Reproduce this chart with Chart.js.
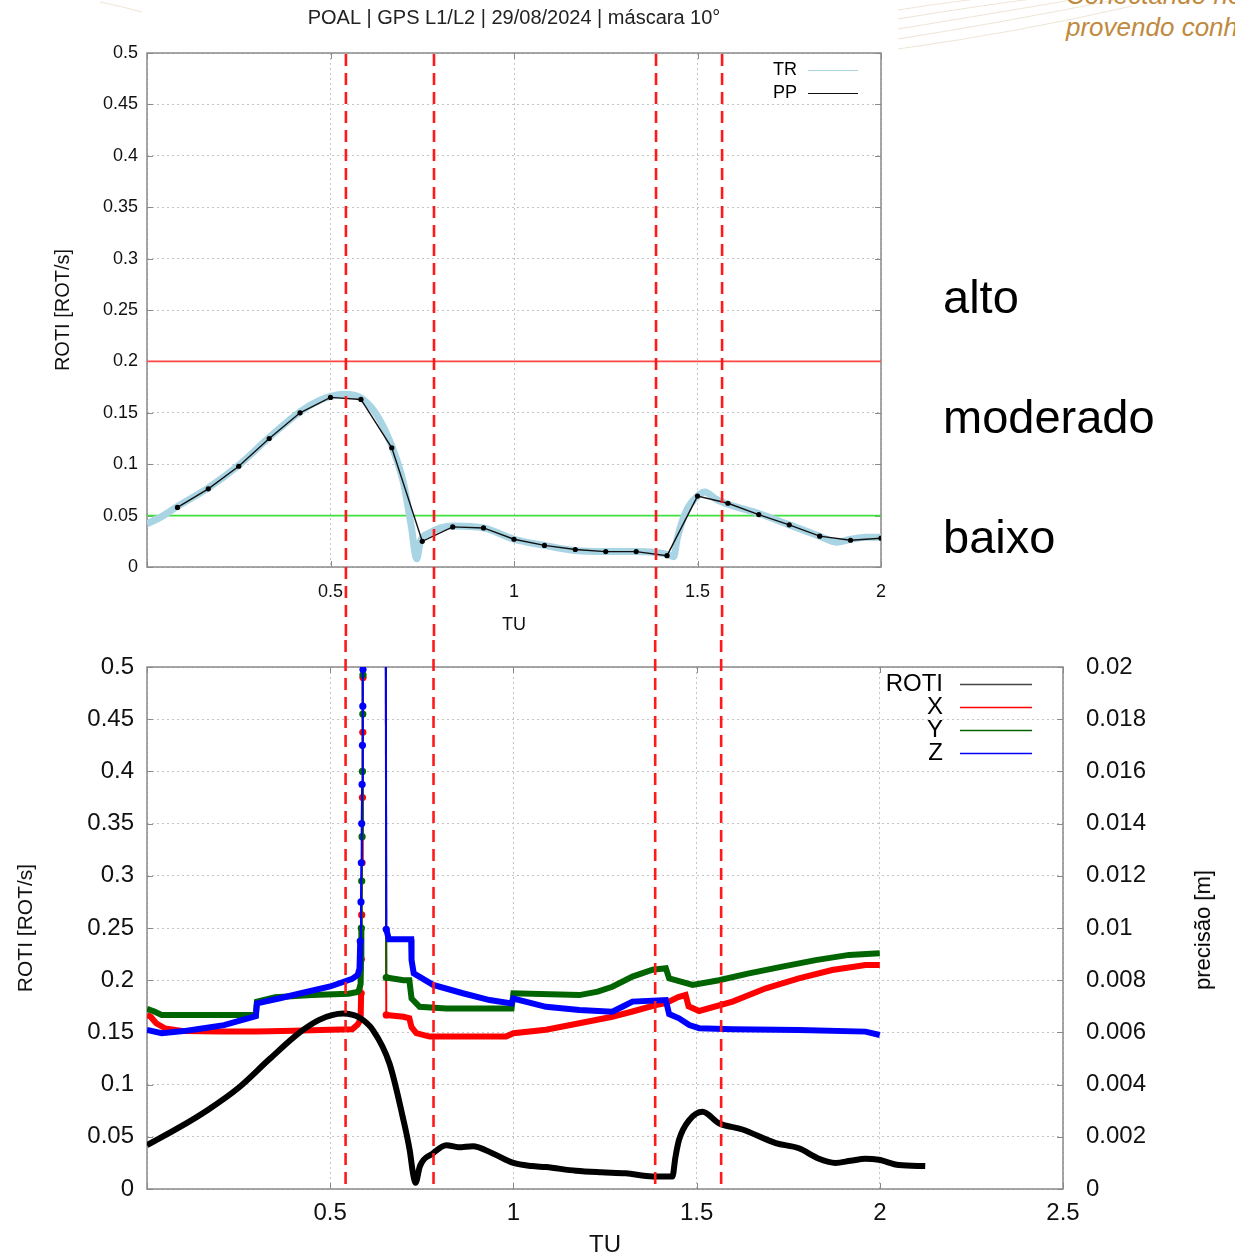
<!DOCTYPE html>
<html><head><meta charset="utf-8">
<script src="https://cdn.jsdelivr.net/npm/chart.js@4/dist/chart.umd.min.js"></script>
<style>
html,body{margin:0;padding:0;background:#fff;}
body{width:1235px;height:1255px;overflow:hidden;position:relative;font-family:"Liberation Sans",Arial,sans-serif;}
#c1{position:absolute;left:0;top:0;}
#c2{position:absolute;left:0;top:640px;}
.lvl{position:absolute;left:943px;font-size:47px;line-height:47px;color:#000;white-space:nowrap;}
.brand{position:absolute;left:1066px;font-size:26px;line-height:26px;font-style:italic;color:#c08a3e;white-space:nowrap;}
#y2title{position:absolute;left:1203px;top:930px;transform:translate(-50%,-50%) rotate(-90deg);font-size:22px;white-space:nowrap;color:#000;}
svg{position:absolute;left:0;top:0;}
</style></head><body>
<svg width="1235" height="60">
  <g fill="none" stroke="#efe5d6" stroke-width="1">
    <path d="M100 2 Q120 6 142 12"/>
    <path d="M898 10 Q960 0 1040 -8"/>
    <path d="M898 19 Q975 6 1070 -6"/>
    <path d="M898 29 Q990 14 1095 -4"/>
    <path d="M898 39 Q1005 22 1115 0"/>
    <path d="M898 49 Q1020 32 1132 6"/>
  </g>
</svg>
<canvas id="c1" width="1028" height="640"></canvas>
<canvas id="c2" width="1235" height="615"></canvas>
<div class="lvl" style="top:273px">alto</div>
<div class="lvl" style="top:393px">moderado</div>
<div class="lvl" style="top:513px">baixo</div>
<div class="brand" style="top:-18px">Conectando nosso</div>
<div class="brand" style="top:14px">provendo conhecimento</div>
<div id="y2title">precisão [m]</div>
<script>
// ---------------- data ----------------
const chartTitle = 'POAL | GPS L1/L2 | 29/08/2024 | máscara 10°';
const markerTimes = [0.542, 0.782, 1.387, 1.567];
const thresholdValues = [0.2, 0.05];

const ppTime  = [0.083,0.167,0.25,0.333,0.417,0.5,0.583,0.667,0.75,0.833,0.917,1.0,1.083,1.167,1.25,1.333,1.417,1.5,1.583,1.667,1.75,1.833,1.917,2.0];
const ppValue = [0.058,0.076,0.098,0.125,0.150,0.165,0.163,0.116,0.025,0.039,0.038,0.027,0.021,0.017,0.015,0.015,0.011,0.069,0.062,0.051,0.041,0.030,0.026,0.028];

const trTime  = [0.0,0.04,0.083,0.167,0.25,0.333,0.417,0.47,0.5,0.54,0.58,0.62,0.65,0.68,0.70,0.72,0.735,0.745,0.77,0.80,0.833,0.917,1.0,1.083,1.167,1.25,1.333,1.42,1.435,1.445,1.47,1.50,1.52,1.55,1.583,1.667,1.75,1.833,1.88,1.917,1.96,2.0];
const trValue = [0.042,0.049,0.059,0.077,0.099,0.126,0.151,0.162,0.166,0.168,0.165,0.151,0.132,0.105,0.080,0.040,0.008,0.025,0.033,0.038,0.040,0.038,0.027,0.021,0.016,0.015,0.015,0.012,0.010,0.028,0.055,0.069,0.073,0.066,0.061,0.052,0.041,0.030,0.024,0.027,0.029,0.029];

const rotiTime  = [0.0,0.083,0.167,0.25,0.333,0.417,0.47,0.535,0.58,0.617,0.662,0.698,0.717,0.726,0.733,0.745,0.78,0.817,0.85,0.889,0.944,1.0,1.05,1.089,1.171,1.24,1.307,1.38,1.434,1.442,1.452,1.48,1.516,1.561,1.625,1.716,1.779,1.834,1.879,1.92,1.961,1.997,2.052,2.124];
const rotiValue = [0.042,0.058,0.076,0.097,0.124,0.150,0.162,0.168,0.164,0.152,0.120,0.069,0.037,0.015,0.006,0.022,0.034,0.042,0.040,0.041,0.034,0.025,0.022,0.021,0.0175,0.016,0.015,0.012,0.012,0.030,0.047,0.066,0.074,0.063,0.057,0.044,0.039,0.029,0.025,0.027,0.029,0.028,0.023,0.022];

const precXTime  = [0.0,0.010,0.025,0.050,0.100,0.200,0.300,0.400,0.500,0.560,0.575,0.583,0.5845,0.585,0.586,0.587,0.588,0.589,0.5895,0.592,0.651,0.653,0.700,0.716,0.722,0.735,0.771,0.850,0.980,1.000,1.089,1.180,1.270,1.325,1.389,1.416,1.450,1.470,1.478,1.507,1.598,1.689,1.779,1.870,1.961,2.000];
const precXValue = [0.00667,0.00660,0.00635,0.00615,0.00605,0.00603,0.00603,0.00606,0.00610,0.00612,0.00630,0.00650,0.0075,0.0088,0.0105,0.0125,0.0150,0.0175,0.0196,0.0300,0.0300,0.00667,0.00660,0.00654,0.00620,0.00597,0.00584,0.00584,0.00584,0.00597,0.00610,0.00635,0.00660,0.00680,0.00705,0.00712,0.00735,0.00743,0.00700,0.00682,0.00718,0.00769,0.00807,0.00839,0.00858,0.00858];

const precYTime  = [0.0,0.020,0.040,0.150,0.297,0.300,0.350,0.450,0.550,0.575,0.578,0.583,0.5845,0.585,0.586,0.587,0.588,0.589,0.5895,0.592,0.651,0.653,0.700,0.716,0.722,0.744,0.817,0.995,1.000,1.180,1.230,1.270,1.325,1.380,1.416,1.425,1.489,1.561,1.643,1.734,1.825,1.916,2.000];
const precYValue = [0.00690,0.00680,0.00667,0.00667,0.00667,0.00718,0.00735,0.00743,0.00748,0.00755,0.00760,0.00785,0.0090,0.0100,0.0118,0.0135,0.0160,0.0182,0.0197,0.0300,0.0300,0.00810,0.00800,0.00800,0.00730,0.00698,0.00692,0.00692,0.00750,0.00743,0.00756,0.00775,0.00814,0.00840,0.00846,0.00807,0.00782,0.00800,0.00826,0.00852,0.00877,0.00897,0.00903];

const precZTime  = [0.0,0.040,0.100,0.150,0.210,0.297,0.300,0.360,0.420,0.500,0.560,0.575,0.580,0.582,0.584,0.585,0.586,0.587,0.588,0.589,0.5895,0.592,0.651,0.653,0.660,0.721,0.722,0.728,0.781,0.862,0.935,0.995,1.000,1.089,1.180,1.270,1.300,1.325,1.416,1.425,1.452,1.480,1.507,1.598,1.779,1.961,2.000];
const precZValue = [0.00609,0.00597,0.00605,0.00615,0.00628,0.00662,0.00711,0.00730,0.00750,0.00776,0.00805,0.00820,0.00845,0.0095,0.0110,0.0125,0.0140,0.0155,0.0170,0.0185,0.0199,0.0300,0.0300,0.00995,0.00957,0.00957,0.00877,0.00826,0.00782,0.00750,0.00724,0.00711,0.00730,0.00698,0.00686,0.00679,0.00700,0.00718,0.00724,0.00670,0.00654,0.00628,0.00616,0.00612,0.00609,0.00603,0.00590];

// ---------------- helpers ----------------
const pts = (xs, ys) => xs.map((x, i) => ({x, y: ys[i]}));
const FONT = '"Liberation Sans", Arial, sans-serif';
const fmt = v => String(Number(v.toFixed(4)));
const CLEAR = 'rgba(0,0,0,0)';

const steepSeg = ctx => Math.abs(ctx.p1.parsed.y - ctx.p0.parsed.y) > 0.0012 && (ctx.p1.parsed.x - ctx.p0.parsed.x) < 0.005;
const steepPoint = ctx => {
  const d = ctx.dataset.data, i = ctx.dataIndex;
  const chk = (a, b) => a && b && Math.abs(b.y - a.y) > 0.0012 && (b.x - a.x) < 0.005;
  return (chk(d[i - 1], d[i]) || chk(d[i], d[i + 1])) && d[i].y < 0.021 ? 3.6 : 0;
};

// gnuplot-like frame with inward ticks
const gnuFrame = {
  id: 'gnuFrame',
  beforeDatasetsDraw(chart) {
    const {ctx, chartArea: a, scales} = chart;
    ctx.save();
    ctx.strokeStyle = '#8a8a8a';
    ctx.lineWidth = 1.5;
    ctx.strokeRect(a.left, a.top, a.right - a.left, a.bottom - a.top);
    ctx.lineWidth = 1;
    const L = 6;
    ctx.beginPath();
    scales.x.ticks.forEach(t => {
      const p = Math.round(scales.x.getPixelForValue(t.value)) + 0.5;
      ctx.moveTo(p, a.bottom); ctx.lineTo(p, a.bottom - L);
      ctx.moveTo(p, a.top); ctx.lineTo(p, a.top + L);
    });
    scales.y.ticks.forEach(t => {
      const p = Math.round(scales.y.getPixelForValue(t.value)) + 0.5;
      ctx.moveTo(a.left, p); ctx.lineTo(a.left + L, p);
      ctx.moveTo(a.right, p); ctx.lineTo(a.right - L, p);
    });
    ctx.stroke();
    ctx.restore();
  }
};

// red dashed event lines
const eventLines = {
  id: 'eventLines',
  afterDatasetsDraw(chart, args, o) {
    const {ctx, chartArea: a, scales: {x}} = chart;
    const y0 = o.fromTop ? 0 : a.top + 1;
    const y1 = o.toBottom ? chart.height : a.bottom + 1;
    ctx.save();
    ctx.strokeStyle = '#ff1a1a';
    ctx.lineWidth = 2.6;
    ctx.setLineDash([12, 7]);
    ctx.lineDashOffset = o.dashOffset || 0;
    markerTimes.forEach(t => {
      const p = x.getPixelForValue(t);
      ctx.beginPath(); ctx.moveTo(p, y0); ctx.lineTo(p, y1); ctx.stroke();
    });
    ctx.restore();
  }
};

// gnuplot-style key: label right-aligned, sample line to its right
const gnuKey = {
  id: 'gnuKey',
  afterDraw(chart, args, o) {
    const ctx = chart.ctx;
    ctx.save();
    ctx.font = o.font;
    ctx.textAlign = 'right';
    ctx.textBaseline = 'middle';
    let row = 0;
    chart.data.datasets.forEach(ds => {
      if (!ds.label) return;
      const y = o.top + row * o.lineH;
      ctx.fillStyle = '#000';
      ctx.fillText(ds.label, o.textRight, y);
      ctx.strokeStyle = ds.keyColor || ds.borderColor;
      ctx.lineWidth = o.lineWidth;
      ctx.beginPath(); ctx.moveTo(o.sampleLeft, y + 0.5); ctx.lineTo(o.sampleRight, y + 0.5); ctx.stroke();
      row++;
    });
    ctx.restore();
  }
};

const dottedGrid = {color: '#c4c4c4', lineWidth: 1};

// ---------------- top chart ----------------
new Chart(document.getElementById('c1'), {
  type: 'line',
  data: {
    datasets: [
      {data: pts([0, 2], [thresholdValues[0], thresholdValues[0]]), borderColor: '#ff4545', borderWidth: 1.6, pointRadius: 0, order: 3},
      {data: pts([0, 2], [thresholdValues[1], thresholdValues[1]]), borderColor: '#3fe03f', borderWidth: 1.6, pointRadius: 0, order: 3},
      {label: 'TR', data: pts(trTime, trValue), borderColor: '#a9d4e3', keyColor: '#a9d4e3', borderWidth: 7, pointRadius: 0, cubicInterpolationMode: 'monotone', order: 2},
      {label: 'PP', data: pts(ppTime, ppValue), borderColor: '#111', borderWidth: 1.4, pointRadius: 2.6, pointBackgroundColor: '#000', pointBorderWidth: 0, order: 1}
    ]
  },
  options: {
    responsive: false, animation: false, events: [],
    layout: {padding: 0},
    plugins: {
      legend: {display: false}, tooltip: {enabled: false},
      title: {display: true, text: chartTitle, color: '#222', font: {family: FONT, size: 20, weight: 'normal'}, padding: {top: 6, bottom: 23}},
      eventLines: {fromTop: false, toBottom: true},
      gnuKey: {font: '18px ' + FONT, textRight: 797, sampleLeft: 808, sampleRight: 858, top: 70, lineH: 23, lineWidth: 1.2}
    },
    scales: {
      x: {
        type: 'linear', min: 0, max: 2,
        afterFit: s => { s.height = 73; },
        ticks: {stepSize: 0.5, padding: 14, color: '#111', font: {family: FONT, size: 18}, maxRotation: 0,
          callback: v => v === 0 ? '' : fmt(v)},
        grid: {...dottedGrid, drawTicks: false},
        border: {display: false, dash: [2, 3]},
        title: {display: true, text: 'TU', color: '#111', font: {family: FONT, size: 18}, padding: {top: 0, bottom: 4}}
      },
      y: {
        type: 'linear', min: 0, max: 0.5,
        afterFit: s => { s.width = 147; },
        ticks: {stepSize: 0.05, padding: 9, color: '#111', font: {family: FONT, size: 18}, callback: v => fmt(v)},
        grid: {...dottedGrid, drawTicks: false},
        border: {display: false, dash: [2, 3]},
        title: {display: true, text: 'ROTI [ROT/s]', color: '#111', font: {family: FONT, size: 20}, padding: {top: 51, bottom: 0}}
      },
      side: {
        type: 'linear', position: 'right', min: 0, max: 0.5,
        afterFit: s => { s.width = 147; },
        ticks: {display: false},
        grid: {drawOnChartArea: false, drawTicks: false},
        border: {display: false}
      }
    }
  },
  plugins: [gnuFrame, eventLines, gnuKey]
});

// ---------------- bottom chart ----------------
const precSeries = (label, xs, ys, color, order) => ({
  label, data: pts(xs, ys), yAxisID: 'y2', borderColor: color, backgroundColor: color,
  borderWidth: 6, pointRadius: steepPoint, pointBorderWidth: 0, pointBackgroundColor: color,
  segment: {borderWidth: ctx => steepSeg(ctx) ? 2 : 6}, order
});

new Chart(document.getElementById('c2'), {
  type: 'line',
  data: {
    datasets: [
      {label: 'ROTI', data: pts(rotiTime, rotiValue), yAxisID: 'y', borderColor: '#000', keyColor: '#444', borderWidth: 6, pointRadius: 0, cubicInterpolationMode: 'monotone', order: 0},
      precSeries('X', precXTime, precXValue, '#ff0000', 3),
      precSeries('Y', precYTime, precYValue, '#006400', 2),
      precSeries('Z', precZTime, precZValue, '#0000ff', 1)
    ]
  },
  options: {
    responsive: false, animation: false, events: [],
    layout: {padding: {left: 0, right: 0, top: 27, bottom: 0}},
    plugins: {
      legend: {display: false}, tooltip: {enabled: false},
      eventLines: {fromTop: true, toBottom: false, dashOffset: 0},
      gnuKey: {font: '24px ' + FONT, textRight: 943, sampleLeft: 960, sampleRight: 1032, top: 44, lineH: 23, lineWidth: 1.6}
    },
    scales: {
      x: {
        type: 'linear', min: 0, max: 2.5,
        afterFit: s => { s.height = 66; },
        ticks: {stepSize: 0.5, padding: 10, color: '#111', font: {family: FONT, size: 24}, maxRotation: 0,
          callback: v => v === 0 ? '' : fmt(v)},
        grid: {...dottedGrid, drawTicks: false},
        border: {display: false, dash: [2, 3]},
        title: {display: true, text: 'TU', color: '#111', font: {family: FONT, size: 24, lineHeight: 1}, padding: {top: 0, bottom: -2}}
      },
      y: {
        type: 'linear', position: 'left', min: 0, max: 0.5,
        afterFit: s => { s.width = 147; },
        ticks: {stepSize: 0.05, padding: 3, color: '#111', font: {family: FONT, size: 24}, callback: v => fmt(v)},
        grid: {...dottedGrid, drawTicks: true, tickLength: 10, tickColor: CLEAR},
        border: {display: false, dash: [2, 3]},
        title: {display: true, text: 'ROTI [ROT/s]', color: '#111', font: {family: FONT, size: 21}, padding: {top: 14, bottom: 0}}
      },
      y2: {
        type: 'linear', position: 'right', min: 0, max: 0.02,
        afterFit: s => { s.width = 172; },
        ticks: {stepSize: 0.002, padding: 3, color: '#111', font: {family: FONT, size: 24}, callback: v => fmt(v)},
        grid: {drawOnChartArea: false, drawTicks: true, tickLength: 20, tickColor: CLEAR},
        border: {display: false}
      }
    }
  },
  plugins: [gnuFrame, eventLines, gnuKey]
});
</script>
</body></html>
